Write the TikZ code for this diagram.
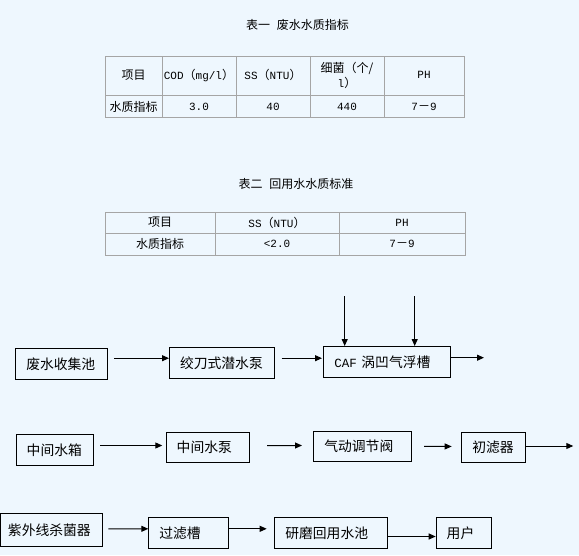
\documentclass[tikz,border=0pt]{standalone}
\usepackage{fontspec}
\newfontfamily\cjk{Noto Sans CJK SC}
\newfontfamily\latn{Liberation Mono}
\usetikzlibrary{arrows.meta}
\definecolor{paper}{RGB}{238,247,254}
\definecolor{rulegray}{RGB}{165,165,165}
\newcommand\half[1]{{\latn\fontsize{11}{12}\selectfont #1}}

\begin{document}
\begin{tikzpicture}[x=1pt, y=-1pt,
    stage/.style={draw, line width=1pt, anchor=north west, align=left,
	text width=#1, inner xsep=10.5pt, inner ysep=0pt, minimum height=31pt,
	font=\cjk\fontsize{13.8}{16}\selectfont},
    flow/.style={line width=1pt, -{Triangle[length=7pt,width=6pt]}},
    cell/.style={font=\cjk\fontsize{12}{15}\selectfont, align=center, inner sep=0pt},
    heading/.style={font=\cjk\fontsize{12}{12}\selectfont, inner sep=0pt},
    tabline/.style={draw=rulegray, line width=1pt}]
    \fill[paper] (0, 0) rectangle (579, 555);
    \useasboundingbox (0, 0) rectangle (579, 555);

    \node[heading] (cap1) at (297.5, 25) {表一\hspace{7pt}废水水质指标};
    \draw[tabline] (105, 56) rectangle (464, 117);
    \draw[tabline] (105, 95) -- (464, 95);
    \foreach \x in {162, 236, 310, 384}
	\draw[tabline] (\x, 56) -- (\x, 117);
    \node[cell] (t1a) at (133.5, 75) {项目};
    \node[cell] (t1b) at (199, 75) {\half{COD}（\half{mg/l}）};
    \node[cell] (t1c) at (273, 75) {\half{SS}（\half{NTU}）};
    \node[cell] (t1d) at (347, 75.5) {细菌（个/\\\half{l}）};
    \node[cell] (t1e) at (424, 75) {\half{PH}};
    \node[cell] (t1f) at (133.5, 106.5) {水质指标};
    \node[cell] (t1g) at (199, 106.5) {\half{3.0}};
    \node[cell] (t1h) at (273, 106.5) {\half{40}};
    \node[cell] (t1i) at (347, 106.5) {\half{440}};
    \node[cell] (t1j) at (424, 106.5) {\half{7}－\half{9}};

    \node[heading] (cap2) at (296, 184) {表二\hspace{7pt}回用水水质标准};
    \draw[tabline] (105, 212) rectangle (465, 255);
    \draw[tabline] (105, 233) -- (465, 233);
    \foreach \x in {215, 339}
	\draw[tabline] (\x, 212) -- (\x, 255);
    \node[cell] (t2a) at (160, 222.5) {项目};
    \node[cell] (t2b) at (277, 222.5) {\half{SS}（\half{NTU}）};
    \node[cell] (t2c) at (402, 222.5) {\half{PH}};
    \node[cell] (t2d) at (160, 244) {水质指标};
    \node[cell] (t2e) at (277, 244) {\half{<2.0}};
    \node[cell] (t2f) at (402, 244) {\half{7}－\half{9}};

    \node[stage=70.4pt] (shouji) at (15.3, 348.3) {废水收集池};
    \node[stage=84pt] (jiaodao) at (169, 347.3) {绞刀式潜水泵};
    \node[stage=105.4pt] (caf) at (323.3, 346)
	{{\latn\fontsize{12.5}{14}\selectfont CAF} 涡凹气浮槽};
    \coordinate (in1) at (344.7, 296);
    \coordinate (in2) at (414.7, 296);
    \coordinate (out1) at (484, 357.7);
    \draw[flow, shorten <=6.3pt] ([yshift=6.1pt]shouji.east) -- ([yshift=5.1pt]jiaodao.west);
    \draw[flow, shorten <=6.7pt, shorten >=1.3pt] ([yshift=5.1pt]jiaodao.east) -- ([yshift=3.8pt]caf.west);
    \draw[flow] (caf.east |- out1) -- (out1);
    \draw[flow] (in1) -- (in1 |- caf.north);
    \draw[flow] (in2) -- (in2 |- caf.north);

    \node[stage=56pt, minimum height=30.7pt] (xiangzi) at (15.7, 434.3) {中间水箱};
    \node[stage=62.6pt, minimum height=30.6pt] (beng) at (165.7, 431.7) {中间水泵};
    \node[stage=76.7pt, minimum height=30.3pt] (famen) at (313.3, 430.7) {气动调节阀};
    \node[stage=42.4pt, minimum height=30.6pt] (chulv) at (461.3, 431.7) {初滤器};
    \coordinate (out2) at (573.3, 446);
    \draw[flow, shorten <=6.3pt, shorten >=3.4pt] ([yshift=4.65pt]xiangzi.east) -- ([yshift=2pt]beng.west);
    \draw[flow, shorten <=16.7pt, shorten >=11.3pt] ([yshift=2pt]beng.east) -- ([yshift=0.85pt]famen.west);
    \draw[flow, shorten <=12pt, shorten >=9.6pt] (famen.east) -- ([yshift=1pt]chulv.west);
    \draw[flow] (chulv.east |- out2) -- (out2);

    \node[stage=86.8pt, inner xsep=8pt, minimum height=32.7pt] (ziwai) at (-0.5, 513.3) {紫外线杀菌器};
    \node[stage=58.4pt, minimum height=31.6pt] (guolv) at (148.3, 516.7) {过滤槽};
    \node[stage=91.4pt] (yanmo) at (274.3, 517.3) {研磨回用水池};
    \node[stage=34.6pt] (yonghu) at (435.7, 517.3) {用户};
    \draw[flow, shorten <=5pt] ([yshift=1.35pt]ziwai.east) -- ([yshift=4.2pt]guolv.west);
    \draw[flow, shorten >=7.6pt] ([yshift=4.2pt]guolv.east) -- ([yshift=4.5pt]yanmo.west);
    \draw[flow] ([yshift=-3.2pt]yanmo.east) -- ([yshift=-3.2pt]yonghu.west);
\end{tikzpicture}
\end{document}
